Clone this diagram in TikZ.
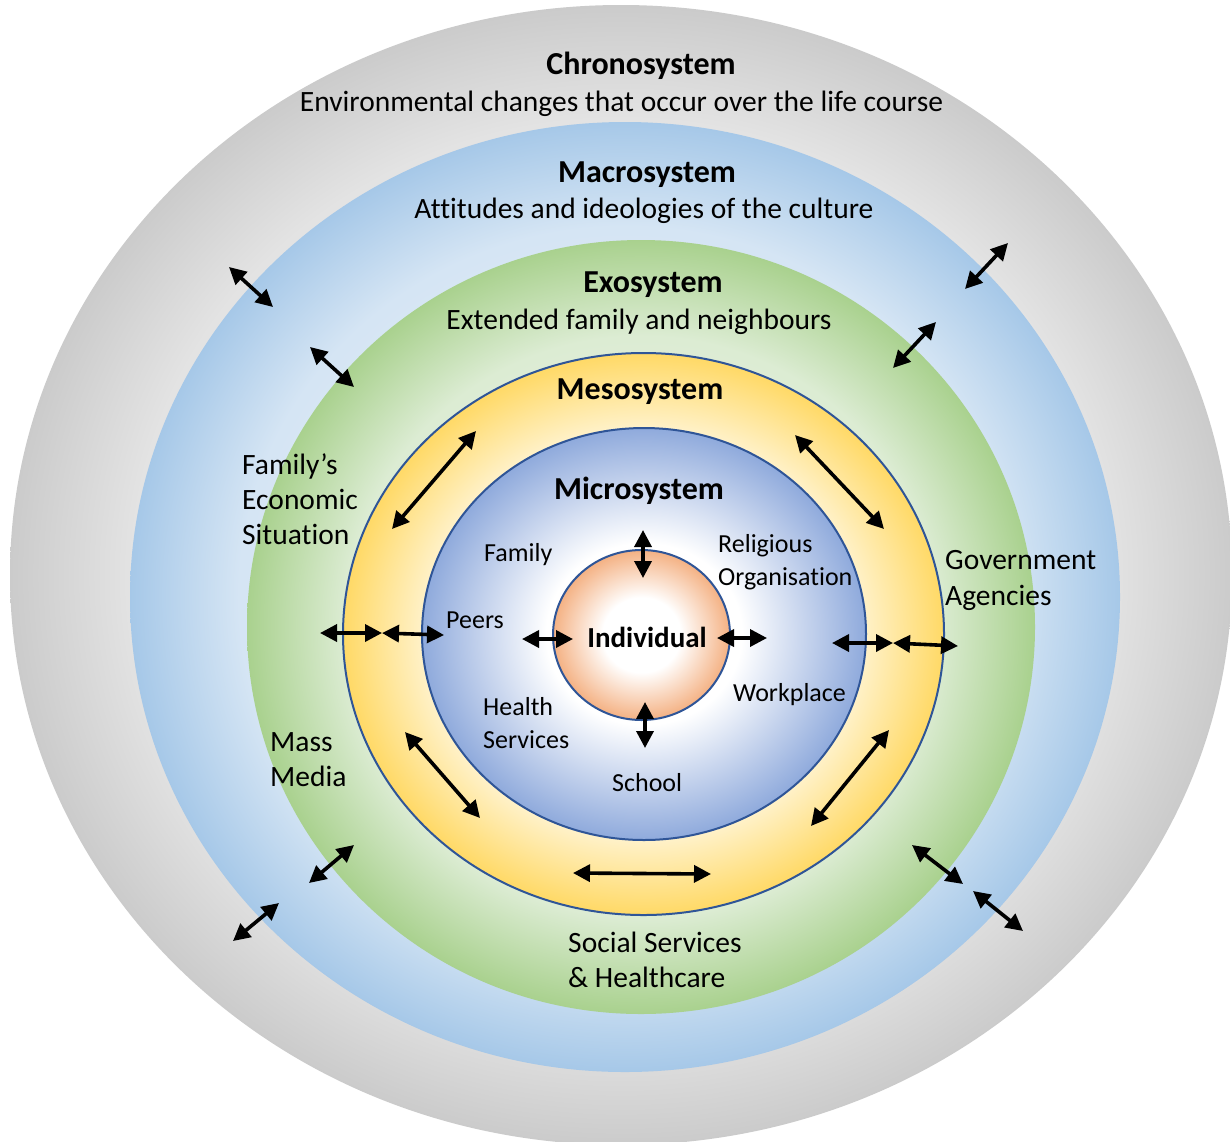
\documentclass[tikz,border=0pt]{standalone}
\usepackage{fontspec}
\setmainfont{Carlito}[Ligatures=NoCommon]
\usetikzlibrary{arrows.meta,shapes.geometric}
\definecolor{grayA}{HTML}{EEEEEE}
\definecolor{grayB}{HTML}{E3E3E3}
\definecolor{grayC}{HTML}{CBCBCB}
\definecolor{blueA}{HTML}{EAF2FA}
\definecolor{blueB}{HTML}{D5E5F4}
\definecolor{blueC}{HTML}{A6C8E8}
\definecolor{greenA}{HTML}{EEF6EA}
\definecolor{greenB}{HTML}{DCECD3}
\definecolor{greenC}{HTML}{A9D18E}
\definecolor{yelA}{HTML}{FFFFFF}
\definecolor{yelB}{HTML}{FFF2CB}
\definecolor{yelC}{HTML}{FFD966}
\definecolor{microC}{HTML}{8FAADC}
\definecolor{indC}{HTML}{F4B183}
\definecolor{rimblue}{HTML}{2F5597}
\pgfdeclareradialshading{grayshade}{\pgfpoint{0bp}{0bp}}{color(0bp)=(grayA); color(20bp)=(grayB); color(25bp)=(grayC); color(50bp)=(grayC)}
\pgfdeclareradialshading{blueshade}{\pgfpoint{0bp}{0bp}}{color(0bp)=(blueA); color(19.5bp)=(blueB); color(25bp)=(blueC); color(50bp)=(blueC)}
\pgfdeclareradialshading{greenshade}{\pgfpoint{0bp}{0bp}}{color(0bp)=(greenA); color(18.8bp)=(greenB); color(25bp)=(greenC); color(50bp)=(greenC)}
\pgfdeclareradialshading{yelshade}{\pgfpoint{0bp}{0bp}}{color(0bp)=(yelA); color(18.2bp)=(yelB); color(25bp)=(yelC); color(50bp)=(yelC)}
\pgfdeclareradialshading{microshade}{\pgfpoint{0bp}{0bp}}{color(0bp)=(white); color(11bp)=(white); color(25bp)=(microC); color(50bp)=(microC)}
\pgfdeclareradialshading{indshade}{\pgfpoint{0bp}{0bp}}{color(0bp)=(white); color(11bp)=(white); color(25bp)=(indC); color(50bp)=(indC)}
\tikzset{
  ring/.style={ellipse, inner sep=0pt, outer sep=0pt, shade},
  rim/.style={draw=rimblue, line width=2pt},
  dbl/.style={{Triangle[length=17pt,width=17pt]}-{Triangle[length=17pt,width=17pt]}, line width=3.6pt, black},
  titletext/.style={font=\fontsize{32}{36}\selectfont\bfseries, inner sep=0pt, anchor=base},
  desctext/.style={font=\fontsize{29.5}{35}\selectfont, inner sep=0pt, anchor=base},
  outerlabel/.style={font=\fontsize{29.5}{35}\selectfont, inner sep=0pt, align=left, anchor=base west},
  innerlabel/.style={font=\fontsize{26}{33}\selectfont, inner sep=0pt, align=left, anchor=base west},
}
\begin{document}
\begin{tikzpicture}[x=1pt,y=-1pt]
\useasboundingbox (0,0) rectangle (1230,1141);
\fill[white] (0,0) rectangle (1230,1141);
% rings
\node[ring, shading=grayshade, minimum width=1222pt, minimum height=1140pt] (chrono) at (621,575) {};
\node[ring, shading=blueshade, minimum width=990pt, minimum height=950pt] (macro) at (625,597) {};
\node[ring, shading=greenshade, minimum width=788pt, minimum height=774pt] (exo) at (641,627) {};
\node[ring, rim, shading=yelshade, minimum width=601pt, minimum height=562pt] (meso) at (643.5,634) {};
\node[ring, rim, shading=microshade, minimum width=444pt, minimum height=412pt] (micro) at (644,634) {};
\node[ring, rim, shading=indshade, minimum width=177pt, minimum height=170pt] (indiv) at (641.5,635) {};
% titles and descriptions
\node[titletext] (tchrono) at (641,74) {Chronosystem};
\node[desctext] (dchrono) at (621.5,111) {Environmental changes that occur over the life course};
\node[titletext] (tmacro) at (647,182) {Macrosystem};
\node[desctext] (dmacro) at (644,218) {Attitudes and ideologies of the culture};
\node[titletext] (texo) at (653,292) {Exosystem};
\node[desctext] (dexo) at (639,329) {Extended family and neighbours};
\node[titletext] (tmeso) at (640,399) {Mesosystem};
\node[titletext] (tmicro) at (639,499) {Microsystem};
\node[titletext, font=\fontsize{29}{35}\selectfont\bfseries] (tindiv) at (647,647) {Individual};
% exosystem labels (base = last line)
\node[outerlabel] (econ) at (242,544) {Family’s\\Economic\\Situation};
\node[outerlabel, font=\fontsize{29.5}{36}\selectfont] (gov) at (945,605) {Government\\Agencies};
\node[outerlabel] (media) at (270,786) {Mass\\Media};
\node[outerlabel] (social) at (568,987) {Social Services\\\& Healthcare};
% microsystem labels
\node[innerlabel] (family) at (484,561) {Family};
\node[innerlabel] (relig) at (718,585) {Religious\\Organisation};
\node[innerlabel] (peers) at (446,628) {Peers};
\node[innerlabel] (work) at (733,701) {Workplace};
\node[innerlabel] (health) at (483,748) {Health\\Services};
\node[innerlabel] (school) at (612,791) {School};
% arrow end points
\coordinate (ch1a) at (229,267); \coordinate (ch1b) at (273,307);
\coordinate (mc1a) at (310,347); \coordinate (mc1b) at (354,387);
\coordinate (ch2a) at (1008,243); \coordinate (ch2b) at (965,289);
\coordinate (mc2a) at (936,322); \coordinate (mc2b) at (893,368);
\coordinate (mc3a) at (354,845); \coordinate (mc3b) at (309,883);
\coordinate (ch3a) at (279,903); \coordinate (ch3b) at (233,941);
\coordinate (mc4a) at (912,845); \coordinate (mc4b) at (963,884);
\coordinate (ch4a) at (973,891); \coordinate (ch4b) at (1023,931);
\coordinate (ms1a) at (476,431); \coordinate (ms1b) at (392,529);
\coordinate (ms2a) at (795,435); \coordinate (ms2b) at (884,529);
\coordinate (ms3a) at (405,732); \coordinate (ms3b) at (480,818);
\coordinate (ms4a) at (889,730); \coordinate (ms4b) at (811,826);
\coordinate (ms5a) at (573,873); \coordinate (ms5b) at (711,874);
\coordinate (la) at (320,633); \coordinate (lb) at (382,633); \coordinate (lc) at (444,635);
\coordinate (ra) at (832,643); \coordinate (rb) at (893,643); \coordinate (rc) at (958,646);
\coordinate (ila) at (522,639); \coordinate (ilb) at (573,639);
\coordinate (ira) at (717,638); \coordinate (irb) at (767,638);
\coordinate (ita) at (643,530); \coordinate (itb) at (643,578);
\coordinate (iba) at (645,702); \coordinate (ibb) at (645,748);
% arrows
\draw[dbl] (ch1a) -- (ch1b);
\draw[dbl] (mc1a) -- (mc1b);
\draw[dbl] (ch2a) -- (ch2b);
\draw[dbl] (mc2a) -- (mc2b);
\draw[dbl] (mc3a) -- (mc3b);
\draw[dbl] (ch3a) -- (ch3b);
\draw[dbl] (mc4a) -- (mc4b);
\draw[dbl] (ch4a) -- (ch4b);
\draw[dbl] (ms1a) -- (ms1b);
\draw[dbl] (ms2a) -- (ms2b);
\draw[dbl] (ms3a) -- (ms3b);
\draw[dbl] (ms4a) -- (ms4b);
\draw[dbl] (ms5a) -- (ms5b);
\draw[dbl] (la) -- (lb);
\draw[dbl] (lb) -- (lc);
\draw[dbl] (ra) -- (rb);
\draw[dbl] (rb) -- (rc);
\draw[dbl] (ila) -- (ilb);
\draw[dbl] (ira) -- (irb);
\draw[dbl] (ita) -- (itb);
\draw[dbl] (iba) -- (ibb);
\end{tikzpicture}
\end{document}
